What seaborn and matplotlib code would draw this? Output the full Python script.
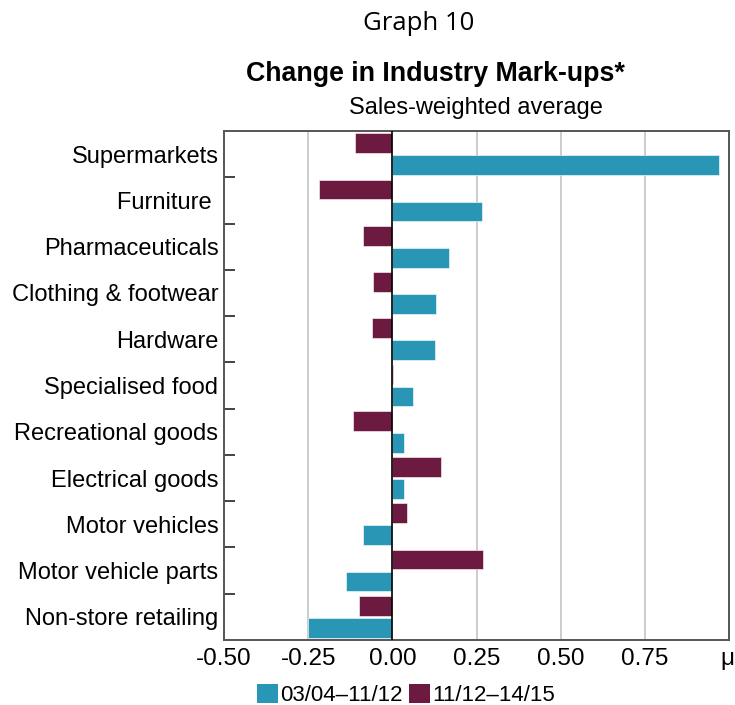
import pandas as pd
import matplotlib
matplotlib.use('Agg')
import matplotlib.pyplot as plt
import seaborn as sns

# дані
categories = ['Supermarkets', 'Furniture ', 'Pharmaceuticals', 'Clothing & footwear',
              'Hardware', 'Specialised food', 'Recreational goods', 'Electrical goods',
              'Motor vehicles', 'Motor vehicle parts', 'Non-store retailing']
early = [0.970, 0.265, 0.169, 0.129, 0.126, 0.062, 0.035, 0.035, -0.088, -0.139, -0.251]
late = [-0.111, -0.218, -0.088, -0.056, -0.060, 0.002, -0.116, 0.145, 0.043, 0.269, -0.100]
early_label = '03/04\u201311/12'
late_label = '11/12\u201314/15'
x_ticks = [-0.5, -0.25, 0, 0.25, 0.5, 0.75, 1.0]
x_ticklabels = ['-0.50', '-0.25', '0.00', '0.25', '0.50', '0.75', '']
unit_label = '\u03bc'

teal = '#2996b5'
maroon = '#6c1a40'

df = pd.concat([
    pd.DataFrame({'category': categories, 'value': late, 'period': late_label}),
    pd.DataFrame({'category': categories, 'value': early, 'period': early_label}),
])

sns.set_style('white')
plt.rcParams['font.family'] = ['Liberation Sans', 'DejaVu Sans']
plt.rcParams['text.color'] = 'black'
plt.rcParams['xtick.color'] = 'black'
plt.rcParams['ytick.color'] = 'black'

fig = plt.figure(figsize=(7.35, 7.05), dpi=100)
ax = fig.add_axes([224 / 735, 1 - 640 / 705, 505 / 735, 509 / 705])

# сітка та нульова лінія
for v in [-0.25, 0.25, 0.5, 0.75]:
    ax.axvline(v, color='#c8c8c8', lw=1.3, zorder=0)

sns.barplot(data=df, y='category', x='value', hue='period',
            hue_order=[late_label, early_label], palette=[maroon, teal],
            order=categories, orient='h', width=0.95, gap=0.1,
            saturation=1, ax=ax, legend=True, zorder=2)
for bar in ax.patches:
    bar.set_edgecolor('white')
    bar.set_linewidth(0.4)
ax.axvline(0, color='black', lw=1.2, zorder=3)

ax.set_xlim(-0.5, 1.0)
ax.set_xticks(x_ticks)
ax.set_xticklabels(x_ticklabels, fontsize=17.5)
ax.set_xlabel('')
ax.set_ylabel('')
ax.tick_params(axis='x', length=0, pad=6)
ax.tick_params(axis='y', which='major', length=0, pad=4, labelsize=17)
ax.set_yticks([i + 0.5 for i in range(len(categories) - 1)], minor=True)
ax.tick_params(axis='y', which='minor', left=True, direction='in', length=8,
               width=1.2, color='#222222')

# одиниця виміру праворуч під віссю
fig.text(727 / 735, 1 - 648 / 705, unit_label, ha='center', va='top', fontsize=17.5)

for s in ax.spines.values():
    s.set_visible(True)
    s.set_color('#555555')
    s.set_linewidth(1.4)

# легенда: спершу бірюзова серія
handles, labels = ax.get_legend_handles_labels()
leg = ax.legend([handles[1], handles[0]], [labels[1], labels[0]],
                loc='center', bbox_to_anchor=(406 / 735, 1 - 695 / 705),
                bbox_transform=fig.transFigure, ncol=2, frameon=False,
                fontsize=16, handlelength=0.95, handleheight=0.95,
                handletextpad=0.1, columnspacing=0.3, borderpad=0)
for h in leg.legend_handles:
    h.set_edgecolor('none')

fig.text(419 / 735, 1 - 24 / 705, 'Graph 10', ha='center', va='center',
         fontsize=18.5, family=['Open Sans', 'DejaVu Sans'])
fig.text(435 / 735, 1 - 74 / 705, 'Change in Industry Mark-ups*', ha='center',
         va='center', fontsize=19.3, fontweight='bold')
fig.text(476 / 735, 1 - 108 / 705, 'Sales-weighted average', ha='center',
         va='center', fontsize=17)

fig.savefig('out.png', dpi=100)
